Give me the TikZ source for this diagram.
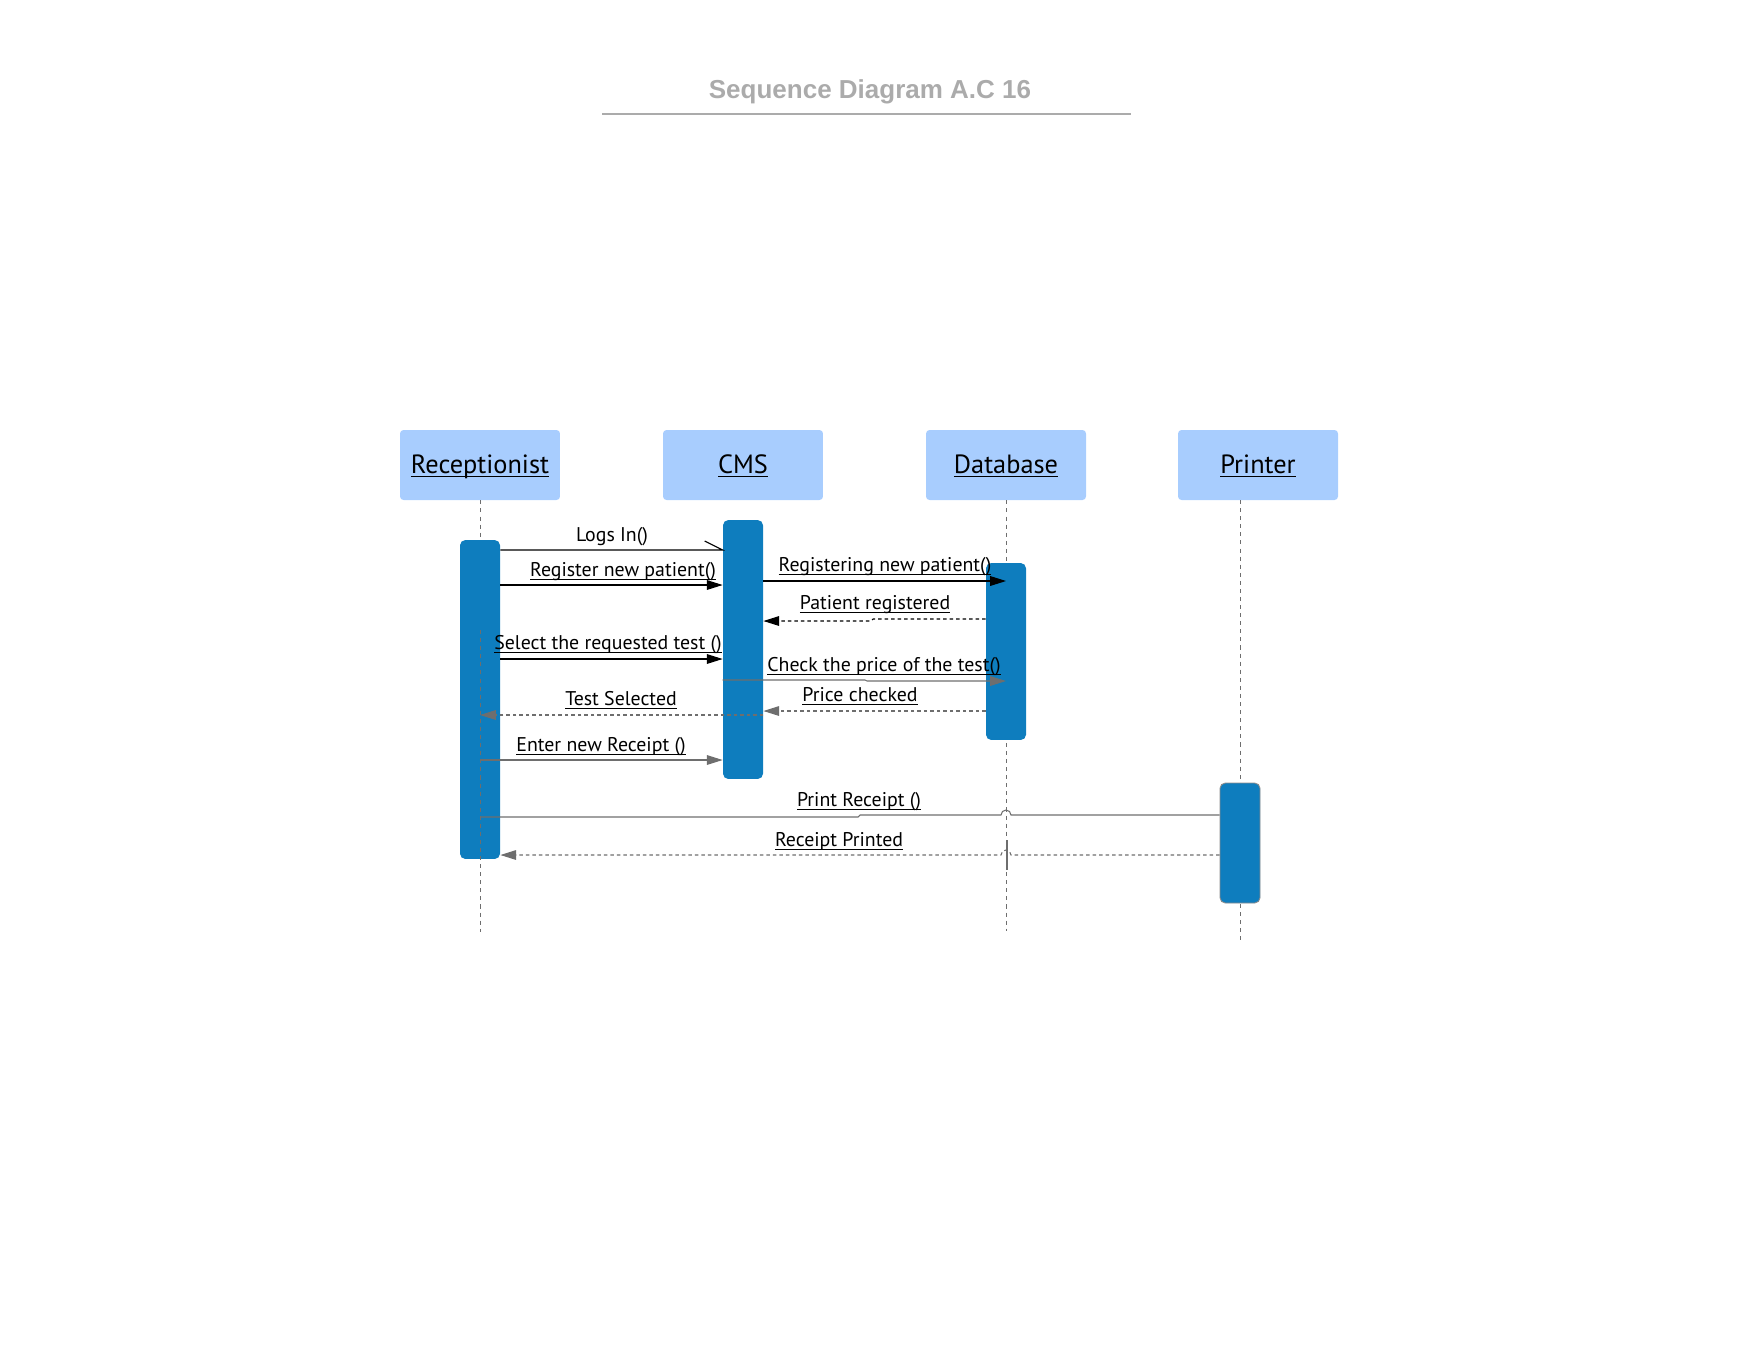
\documentclass[tikz,border=0pt]{standalone}
\usepackage{fontspec}
\setmainfont{PT Sans}
\newfontfamily\titlefont{Liberation Sans}
\usetikzlibrary{arrows.meta, positioning}
\definecolor{headblue}{HTML}{A8CDFE}
\definecolor{actblue}{HTML}{0E7DBE}
\definecolor{linegray}{HTML}{6E6E6E}
\definecolor{titlegray}{HTML}{ABABAB}
\newcommand{\ulbl}[1]{\underline{\smash{#1}}}

\begin{document}
\begin{tikzpicture}[
    x=0.02cm, y=-0.02cm,
    head/.style={fill=headblue, rounded corners=2pt, minimum width=3.2cm, minimum height=1.4cm,
                 font=\fontsize{15}{17}\selectfont, text height=10pt, text depth=0pt},
    act/.style={fill=actblue, rounded corners=3pt, minimum width=0.8cm, inner sep=0pt},
    lifeline/.style={draw=linegray, line width=0.5pt, dash pattern=on 2.3pt off 2.3pt},
    call/.style={line width=0.6pt, -{Triangle[length=9pt, width=5.5pt]}},
    grcall/.style={call, draw=linegray, -{Triangle[length=9pt, width=5.5pt, fill=linegray]}},
    reply/.style={call, dash pattern=on 2pt off 1.7pt},
    grreply/.style={grcall, dash pattern=on 2pt off 1.7pt},
    msg/.style={font=\fontsize{11.3}{13}\selectfont, anchor=base, inner sep=0pt},
]
    \useasboundingbox (0,0) rectangle (1760,1360);

    % title
    \node[font=\titlefont\bfseries\fontsize{14.8}{17}\selectfont, text=titlegray] (title) at (870,92) {Sequence Diagram A.C 16};
    \coordinate (titleL) at (602,114);
    \coordinate (titleR) at (1131,114);
    \draw[titlegray, line width=1.1pt] (titleL) -- (titleR);

    % participants
    \node[head] (rec) at (480,465) {\ulbl{Receptionist}};
    \node[head] (cms) at (743,465) {\ulbl{CMS}};
    \node[head] (db) at (1006,465) {\ulbl{Database}};
    \node[head] (prn) at (1258,465) {\ulbl{Printer}};

    \coordinate (recEnd) at (480,932);
    \coordinate (dbEnd) at (1006,931);
    \coordinate (prnTop) at (1240,500);
    \coordinate (prnEnd) at (1240,940);
    \draw[lifeline] (rec.south) -- (recEnd);
    \draw[lifeline] (db.south) -- (dbEnd);
    \draw[lifeline] (prnTop) -- (prnEnd);

    % activations
    \node[act, minimum height=6.38cm] (recAct) at (480,699.5) {};
    \node[act, minimum height=5.18cm] (cmsAct) at (743,649.5) {};
    \node[act, minimum height=3.54cm] (dbAct) at (1006,651.5) {};
    \node[act, draw=linegray!80, line width=0.5pt, minimum height=2.4cm] (prnAct) at (1240,843) {};

    \coordinate (recMid) at (480,630);
    \draw[lifeline] (recMid) -- (recAct.south);

    % messages
    \draw[line width=0.6pt] (recAct.east |- 0,550) -- (cmsAct.west |- 0,550) -- ++(-18,-9);
    \node[msg] (lblLogin) at (612,541) {Logs In()};

    \draw[call] (recAct.east |- 0,585) -- (cmsAct.west |- 0,585);
    \node[msg] (lblReg) at (623,576.5) {\ulbl{Register new patient()}};

    \draw[call] (cmsAct.east |- 0,581) -- (dbAct.center |- 0,581);
    \node[msg] (lblRegDb) at (885,571.5) {\ulbl{Registering new patient()}};

    \draw[reply] (dbAct.west |- 0,619) -- (873,619) -- (871,621) -- (cmsAct.east |- 0,621);
    \node[msg] (lblRegd) at (875,609.5) {\ulbl{Patient registered}};

    \draw[call] (recAct.east |- 0,659) -- (cmsAct.west |- 0,659);
    \node[msg] (lblSel) at (608,649.5) {\ulbl{Select the requested test ()}};

    \draw[grcall] (cmsAct.west |- 0,680) -- (865,680) -- (867,681) -- (dbAct.center |- 0,681);
    \node[msg] (lblPrice) at (884,671.5) {\ulbl{Check the price of the test()}};

    \draw[grreply] (dbAct.west |- 0,711) -- (cmsAct.east |- 0,711);
    \node[msg] (lblChk) at (860,701.5) {\ulbl{Price checked}};

    \draw[grreply] (cmsAct.east |- 0,715) -- (recAct.center |- 0,715);
    \node[msg] (lblSeld) at (621,705.5) {\ulbl{Test Selected}};

    \draw[grcall] (recAct.center |- 0,760) -- (cmsAct.west |- 0,760);
    \node[msg] (lblRcpt) at (601,751.5) {\ulbl{Enter new Receipt ()}};

    \draw[draw=linegray, line width=0.6pt] (recAct.center |- 0,817) -- (858,817) -- (860,815) -- (1001,815)
        arc[start angle=180, end angle=0, radius=0.1cm] -- (prnAct.west |- 0,815);
    \node[msg] (lblPrint) at (859,806.5) {\ulbl{Print Receipt ()}};

    \draw[grreply] (prnAct.west |- 0,855) -- (1011,855)
        arc[start angle=0, end angle=180, radius=0.1cm] -- (recAct.east |- 0,855);
    \node[msg] (lblPrtd) at (839,846.5) {\ulbl{Receipt Printed}};
    \draw[linegray, line width=0.7pt] (1007,840) -- (1007,870);
\end{tikzpicture}
\end{document}
